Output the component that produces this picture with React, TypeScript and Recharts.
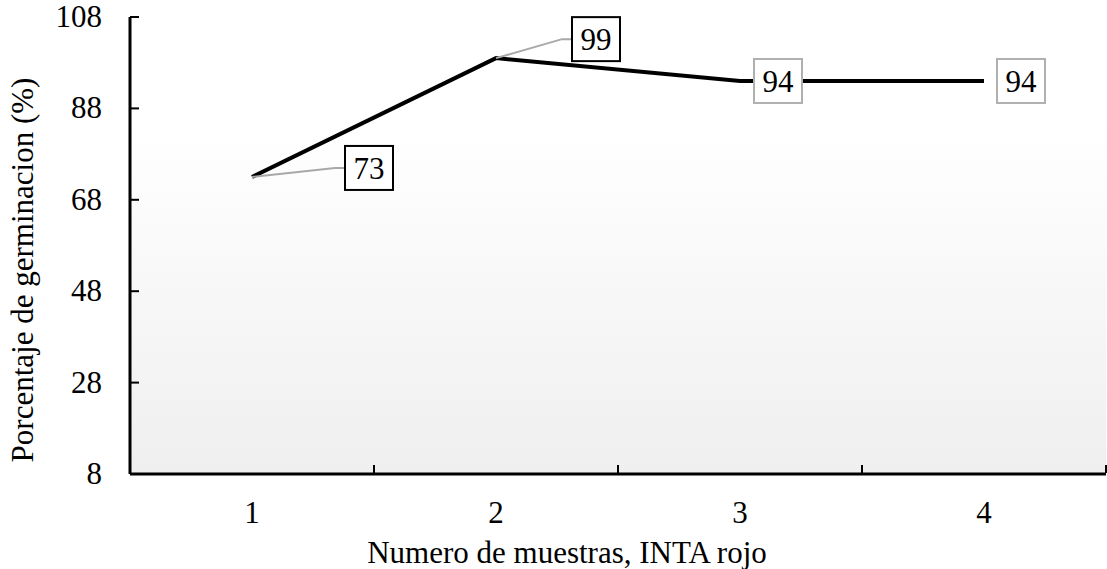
import { LineChart, Line, XAxis, YAxis, LabelList, CartesianGrid } from "recharts";

const muestras = ["1", "2", "3", "4"];
const germinacion = [73, 99, 94, 94];
const yTicks = [8, 28, 48, 68, 88, 108];

const data = muestras.map((m, i) => ({ muestra: m, pct: germinacion[i] }));

// label box placement relative to each point (style only)
const LABEL_STYLE = [
  { dx: 117, dy: -9, border: "#000", leader: true },
  { dx: 100, dy: -19, border: "#000", leader: true },
  { dx: 38, dy: 0, border: "#b0b0b0", leader: false },
  { dx: 37, dy: 0, border: "#b0b0b0", leader: false },
];

const FONT = "'Liberation Serif', 'Times New Roman', serif";
const W = 1107;
const H = 569;
const BAND = 244;

function PointLabel(props: any) {
  const { x, y, value, index } = props;
  const s = LABEL_STYLE[index];
  if (!s) return null;
  const cx = x + s.dx;
  const cy = y + s.dy;
  const bw = 48;
  const bh = 44;
  const left = cx - bw / 2;
  return (
    <g>
      {s.leader && (
        <polyline
          points={`${x},${y} ${left - 10},${cy} ${left},${cy}`}
          fill="none"
          stroke="#a8a8a8"
          strokeWidth={2}
        />
      )}
      <rect x={left} y={cy - bh / 2} width={bw} height={bh} fill="#fff" stroke={s.border} strokeWidth={2} />
      <text x={cx} y={cy + 11} textAnchor="middle" fontFamily={FONT} fontSize={31} fill="#000">
        {value}
      </text>
    </g>
  );
}

function XTick(props: any) {
  const { x, payload } = props;
  const axisY = 474;
  return (
    <g>
      <line x1={x + BAND / 2} y1={axisY - 1} x2={x + BAND / 2} y2={axisY - 9} stroke="#000" strokeWidth={2} />
      <text x={x} y={axisY + 49} textAnchor="middle" fontFamily={FONT} fontSize={31} fill="#000">
        {payload.value}
      </text>
    </g>
  );
}

function YTick(props: any) {
  const { y, payload } = props;
  const axisX = 130;
  return (
    <g>
      <line x1={axisX} y1={y} x2={axisX + 9} y2={y} stroke="#000" strokeWidth={2} />
      <text x={axisX - 28} y={y + 10} textAnchor="end" fontFamily={FONT} fontSize={31} fill="#000">
        {payload.value}
      </text>
    </g>
  );
}

export default function App() {
  return (
    <div style={{ position: "absolute", left: 0, top: 0, width: W, height: H, background: "#fff" }}>
      <LineChart width={W} height={H} data={data} margin={{ top: 17, right: 1, left: 0, bottom: 0 }}>
        <defs>
          <linearGradient id="bgFade" x1="0" y1="0" x2="0" y2="1">
            <stop offset="0%" stopColor="#ffffff" />
            <stop offset="24%" stopColor="#ffffff" />
            <stop offset="100%" stopColor="#efefef" />
          </linearGradient>
        </defs>
        <CartesianGrid vertical={false} horizontal={true} stroke="none" fill="url(#bgFade)" fillOpacity={1} />
        <XAxis
          dataKey="muestra"
          padding={{ left: BAND / 2, right: BAND / 2 }}
          height={95}
          axisLine={{ stroke: "#000", strokeWidth: 3 }}
          tickLine={false}
          tick={<XTick />}
          interval={0}
        />
        <YAxis
          domain={[8, 108]}
          ticks={yTicks}
          width={130}
          axisLine={{ stroke: "#000", strokeWidth: 3 }}
          tickLine={false}
          tick={<YTick />}
          tickMargin={0}
        />
        <Line
          type="linear"
          dataKey="pct"
          stroke="#000"
          strokeWidth={4}
          dot={false}
          activeDot={false}
          isAnimationActive={false}
        >
          <LabelList dataKey="pct" content={<PointLabel />} />
        </Line>
        <text x={567} y={563} textAnchor="middle" fontFamily={FONT} fontSize={31} fill="#000">
          Numero de muestras, INTA rojo
        </text>
        <text
          x={33}
          y={270}
          transform="rotate(-90 33 270)"
          textAnchor="middle"
          fontFamily={FONT}
          fontSize={31}
          fill="#000"
        >
          Porcentaje de germinacion (%)
        </text>
      </LineChart>
    </div>
  );
}
